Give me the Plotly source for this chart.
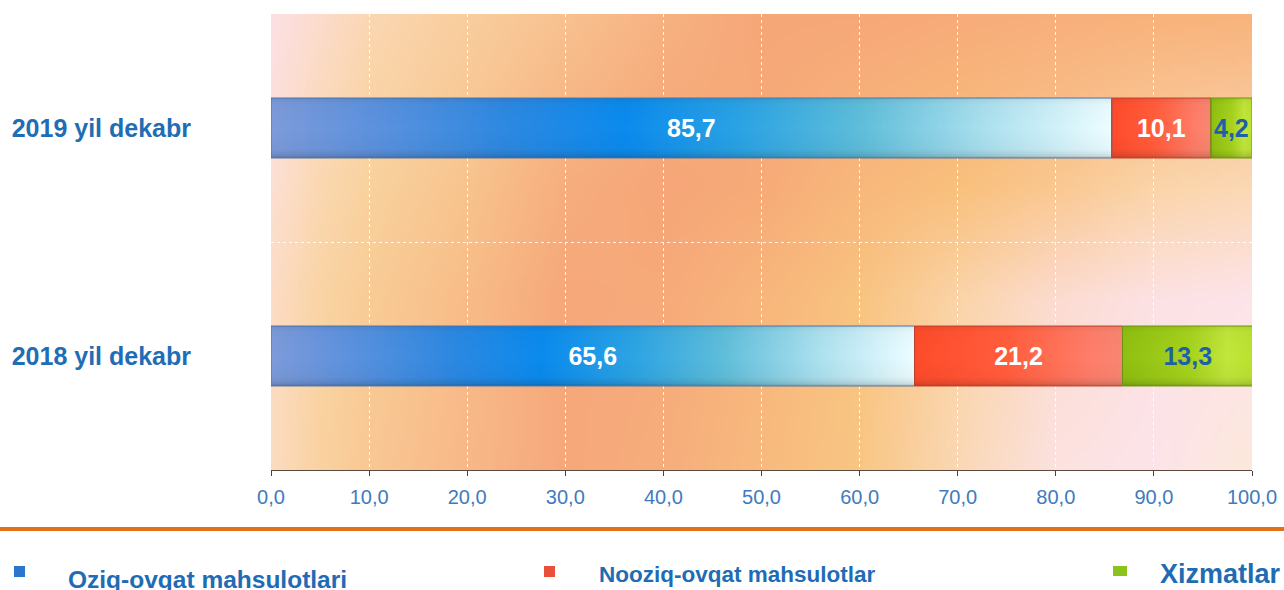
import base64
import struct
import zlib

import numpy as np
import plotly.graph_objects as go

# ---------------- data ----------------
categories = ["2019 yil dekabr", "2018 yil dekabr"]
series_names = ["Oziq-ovqat mahsulotlari", "Nooziq-ovqat mahsulotlar", "Xizmatlar"]
oziq_ovqat = [85.7, 65.6]
nooziq_ovqat = [10.1, 21.2]
xizmatlar = [4.2, 13.3]
x_tick_values = [0, 10, 20, 30, 40, 50, 60, 70, 80, 90, 100]

# ---------------- layout constants ----------------
W, H = 1284, 590
ML, MR, MT, MB = 271, 32, 14, 120
PW = W - ML - MR
PH = H - MT - MB
FONT = "Liberation Sans, Arial, sans-serif"
BAR_W = 0.263


def px2fx(px):
    return (px - ML) / PW


def px2fy(py):
    return (H - MB - py) / PH


def hex2rgb(h):
    h = h.lstrip("#")
    return np.array([int(h[i:i + 2], 16) for i in (0, 2, 4)], dtype=float)


def png_uri(arr):
    arr = np.clip(arr, 0, 255).astype(np.uint8)
    h, w, _ = arr.shape
    raw = b"".join(b"\x00" + arr[r].tobytes() for r in range(h))

    def chunk(tag, data):
        return (struct.pack(">I", len(data)) + tag + data
                + struct.pack(">I", zlib.crc32(tag + data) & 0xFFFFFFFF))

    png = (b"\x89PNG\r\n\x1a\n"
           + chunk(b"IHDR", struct.pack(">IIBBBBB", w, h, 8, 2, 0, 0, 0))
           + chunk(b"IDAT", zlib.compress(raw, 9))
           + chunk(b"IEND", b""))
    return "data:image/png;base64," + base64.b64encode(png).decode()


# ---------------- background gradient (style only) ----------------
bg_xs = [0, 5, 10, 20, 30, 40, 50, 60, 70, 80, 90, 100]
bg_rows = {
    1.5: ["#fde0e4", "#fcdccc", "#fbd7b2", "#f9ce9e", "#f8c290", "#f7b282", "#f6a779",
          "#f7a878", "#f7ac79", "#f8af7b", "#f8b27b", "#f8b47c"],
    0.75: ["#fde0d4", "#fbd8b0", "#f9d29e", "#f8c48e", "#f7ae7e", "#f6a678", "#f7ab78",
           "#f8b87c", "#f9c07c", "#fac890", "#fbd4a8", "#fbd8b4"],
    0.25: ["#fcdcc4", "#fad4a4", "#f9cc96", "#f8bc88", "#f6a87a", "#f7aa7a", "#f8b67c",
           "#f9c480", "#fbd4a8", "#fcdcd0", "#fde2e4", "#fde4ea"],
    -0.5: ["#fcdcc0", "#fad2a0", "#f9c894", "#f8b888", "#f6a87c", "#f6ae7c", "#f8ba7e",
           "#f9c684", "#fad8b4", "#fce2e0", "#fde4ea", "#fce8dc"],
}
gx = np.linspace(0, 100, 246)
gy = np.linspace(1.5, -0.5, 114)
row_keys = sorted(bg_rows.keys())
row_cols = []
for k in row_keys:
    cols = np.array([hex2rgb(c) for c in bg_rows[k]])
    row_cols.append(np.stack([np.interp(gx, bg_xs, cols[:, ch]) for ch in range(3)], axis=-1))
row_cols = np.array(row_cols)
bg = np.zeros((len(gy), len(gx), 3))
for i, yv in enumerate(gy):
    w_idx = int(np.searchsorted(row_keys, yv))
    w_idx = min(max(w_idx, 1), len(row_keys) - 1)
    y0, y1 = row_keys[w_idx - 1], row_keys[w_idx]
    t = (yv - y0) / (y1 - y0)
    bg[i] = row_cols[w_idx - 1] * (1 - t) + row_cols[w_idx] * t
bg_uri = png_uri(bg)

# ---------------- bar styling ----------------
grad_stops = [
    [(0.0, "#7b98d6"), (0.12, "#5b8fda"), (0.28, "#2c86dd"), (0.42, "#0a88ea"),
     (0.56, "#2aa0e0"), (0.70, "#5cbad6"), (0.85, "#a8dcea"), (1.0, "#e8f9fc")],
    [(0.0, "#fa4a2a"), (0.45, "#ff5c3c"), (0.85, "#fa7c68"), (1.0, "#f4846f")],
    [(0.0, "#8cbc10"), (0.5, "#a2ce1c"), (0.8, "#bee23a"), (1.0, "#b6de2e")],
]
edge_colors = ["#4a74a8", "#c0402a", "#6c9412"]
text_colors = ["#ffffff", "#ffffff", "#1f5fa8"]
# vertical shading from bottom (0) to top (1) of each bar
vp_pos = [0.0, 0.06, 0.15, 0.5, 0.9, 1.0]
vp_val = [0.80, 0.92, 0.99, 1.02, 1.0, 0.94]
NROW = 30
vert_profile = np.interp((np.arange(NROW) + 0.5) / NROW, vp_pos, vp_val)
legend_colors = ["#2a76cc", "#e8503a", "#8cc21c"]

series_values = [oziq_ovqat, nooziq_ovqat, xizmatlar]
ypos = [len(categories) - 1 - i for i in range(len(categories))]

fig = go.Figure()

NCOL = 240
bases = [0.0] * len(categories)
for s, vals in enumerate(series_values):
    stops = grad_stops[s]
    sp = [p for p, _ in stops]
    sc = np.array([hex2rgb(c) for _, c in stops])
    t = (np.arange(NCOL) + 0.5) / NCOL
    line = np.stack([np.interp(t, sp, sc[:, ch]) for ch in range(3)], axis=-1)
    z = np.clip(np.array([line * f for f in vert_profile]), 0, 255).round().astype(int)
    for c, v in enumerate(vals):
        dx = v / NCOL
        dy = BAR_W / NROW
        fig.add_trace(go.Image(
            z=z.tolist(), colormodel="rgb",
            x0=bases[c] + dx / 2, dx=dx,
            y0=ypos[c] - BAR_W / 2 + dy / 2, dy=dy,
            hoverinfo="skip",
        ))
    fig.add_trace(go.Bar(
        name=series_names[s],
        y=ypos, x=vals, base=list(bases),
        orientation="h", width=BAR_W,
        marker=dict(color="rgba(0,0,0,0)", line=dict(color=edge_colors[s], width=1)),
        texttemplate="%{x:.1f}", textposition="inside", insidetextanchor="middle",
        textangle=0, constraintext="none", cliponaxis=True,
        textfont=dict(family=FONT, size=25, color=text_colors[s], weight="bold"),
        hoverinfo="skip", showlegend=False,
    ))
    bases = [b + v for b, v in zip(bases, vals)]

# ---------------- legend (annotations + marker squares) ----------------
legend_marker_px = [(14, 566, 25, 577), (544, 566, 555, 577), (1113, 566, 1127, 576)]
legend_text_px = [(66, 579, 24.5), (597, 574, 22.5), (1158, 574, 27)]
shapes = []
annotations = []
for i, name in enumerate(series_names):
    x0, y0, x1, y1 = legend_marker_px[i]
    shapes.append(dict(type="rect", xref="paper", yref="paper",
                       x0=px2fx(x0), x1=px2fx(x1), y0=px2fy(y1), y1=px2fy(y0),
                       fillcolor=legend_colors[i], line=dict(width=0)))
    tx, ty, ts = legend_text_px[i]
    annotations.append(dict(text=name, xref="paper", yref="paper",
                            x=px2fx(tx), y=px2fy(ty), xanchor="left", yanchor="middle",
                            showarrow=False,
                            font=dict(family=FONT, size=ts, color="#1f6cb4", weight="bold")))

# orange separator line
shapes.append(dict(type="line", xref="paper", yref="paper",
                   x0=px2fx(0), x1=px2fx(W), y0=px2fy(529), y1=px2fy(529),
                   line=dict(color="#e0731a", width=4)))

fig.update_layout(
    width=W, height=H,
    margin=dict(l=ML, r=MR, t=MT, b=MB, autoexpand=False),
    paper_bgcolor="white", plot_bgcolor="#f8c090",
    barmode="overlay",
    separators=", ",
    font=dict(family=FONT),
    images=[dict(source=bg_uri, xref="x", yref="y", x=0, y=1.5, sizex=100, sizey=2,
                 sizing="stretch", xanchor="left", yanchor="top", layer="below")],
    shapes=shapes,
    annotations=annotations,
    xaxis=dict(
        range=[0, 100], autorange=False, tickvals=x_tick_values, tickformat=".1f",
        showgrid=True, gridcolor="rgba(255,255,255,0.9)", griddash="dot", gridwidth=1,
        zeroline=False, showline=True, linecolor="#5b4b3f", linewidth=1,
        ticks="outside", ticklen=5, tickcolor="#444", tickwidth=1,
        tickfont=dict(family=FONT, size=20, color="#3e7bbf"),
        ticklabelstandoff=4, fixedrange=True, constrain="range",
    ),
    yaxis=dict(
        range=[-0.5, 1.5], autorange=False, tickvals=ypos, ticktext=categories,
        showgrid=False, zeroline=False, showline=False, ticks="",
        ticklabelstandoff=79, scaleanchor=False, constrain="range",
        tickfont=dict(family=FONT, size=25, color="#1f6db4", weight="bold"),
        minor=dict(tickvals=[0.5], showgrid=True, gridcolor="rgba(255,255,255,0.9)",
                   griddash="dot", gridwidth=1, ticks=""),
        fixedrange=True,
    ),
)

fig.write_html(
    "out.html",
    config={"displayModeBar": False},
    post_script="document.body.style.margin='0px';document.body.style.overflow='hidden';",
)
